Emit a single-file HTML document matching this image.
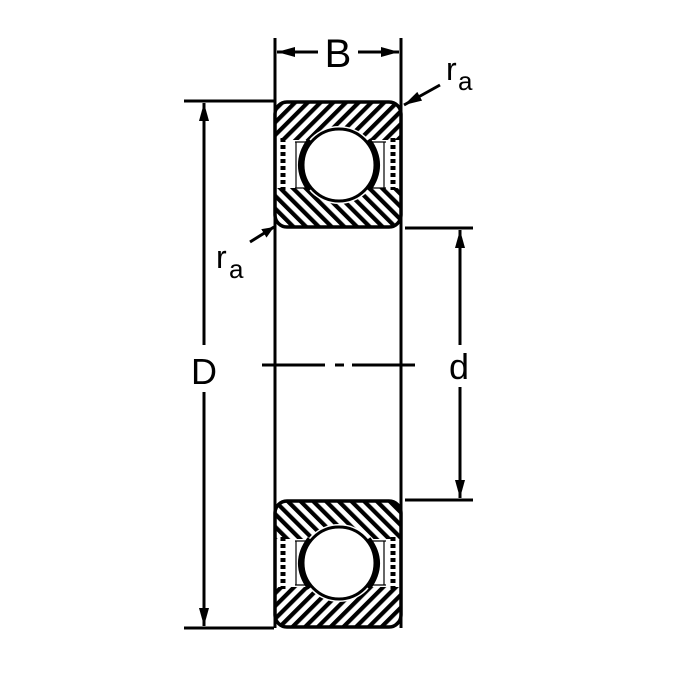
<!DOCTYPE html>
<html><head><style>body{margin:0;background:#fff}svg{display:block}</style></head><body>
<svg width="675" height="675" viewBox="0 0 675 675" xmlns="http://www.w3.org/2000/svg" font-family="Liberation Sans, sans-serif">
<defs>
<pattern id="h1" width="9" height="9" patternUnits="userSpaceOnUse" patternTransform="rotate(45)"><rect width="9" height="9" fill="#fff"/><rect width="4.2" height="9" fill="#000"/></pattern>
<pattern id="h2" width="9" height="9" patternUnits="userSpaceOnUse" patternTransform="rotate(-45)"><rect width="9" height="9" fill="#fff"/><rect width="4.2" height="9" fill="#000"/></pattern>
<marker id="ar" markerWidth="12" markerHeight="10" refX="12" refY="5" orient="auto" markerUnits="userSpaceOnUse"><path d="M0,0 L12,5 L0,10z" fill="#000"/></marker>
<marker id="arl" markerWidth="18" markerHeight="10" refX="18" refY="5" orient="auto" markerUnits="userSpaceOnUse"><path d="M0,0 L18,5 L0,10z" fill="#000"/></marker>
<clipPath id="c1"><rect x="275" y="102" width="126" height="125" rx="12"/></clipPath>
<clipPath id="c2"><rect x="275" y="501" width="126" height="126" rx="12"/></clipPath>
</defs>
<g stroke="#000" stroke-width="3" fill="none">
<line x1="275" y1="38" x2="275" y2="628"/><line x1="401" y1="38" x2="401" y2="628"/>
<line x1="184" y1="101" x2="274" y2="101"/><line x1="184" y1="628" x2="274" y2="628"/>
<line x1="405" y1="228" x2="473" y2="228"/><line x1="405" y1="500" x2="473" y2="500"/>
</g>
<g stroke="#000" stroke-width="3">
<line x1="204" y1="345" x2="204" y2="103" marker-end="url(#arl)"/>
<line x1="204" y1="392" x2="204" y2="626" marker-end="url(#arl)"/>
<line x1="460" y1="345" x2="460" y2="230" marker-end="url(#arl)"/>
<line x1="460" y1="387" x2="460" y2="498" marker-end="url(#arl)"/>
<line x1="318" y1="52" x2="277" y2="52" marker-end="url(#arl)"/>
<line x1="358" y1="52" x2="399" y2="52" marker-end="url(#arl)"/>
<line x1="440" y1="85" x2="404" y2="105" marker-end="url(#arl)"/>
<line x1="250" y1="242" x2="274" y2="227" marker-end="url(#ar)"/>
<line x1="262" y1="365" x2="325" y2="365"/><line x1="335" y1="365" x2="344" y2="365"/><line x1="352" y1="365" x2="415" y2="365"/>
</g>
<!-- top bearing -->
<g clip-path="url(#c1)">
<rect x="274" y="101" width="128" height="128" fill="#fff"/>
<rect x="274" y="101" width="128" height="39" fill="url(#h1)"/>
<rect x="274" y="188" width="128" height="41" fill="url(#h2)"/>
</g>
<rect x="290" y="140" width="96" height="48" fill="#fff"/>
<circle cx="339" cy="165" r="39" fill="#fff"/>
<path d="M295,142 L312,142 M295,188 L312,188 M366,142 L386,142 M366,188 L386,188 M296,142 L296,188 M384,142 L384,188" stroke="#000" stroke-width="1.2"/>
<path d="M310,140 Q292,165 310,190" stroke="#000" stroke-width="6" fill="none"/>
<path d="M368,140 Q386,165 368,190" stroke="#000" stroke-width="6" fill="none"/>
<circle cx="339" cy="165" r="36" fill="#fff" stroke="#000" stroke-width="3"/>
<g stroke="#000" stroke-width="5" stroke-dasharray="4,3"><line x1="283" y1="138" x2="283" y2="190"/><line x1="393" y1="138" x2="393" y2="190"/></g>
<rect x="275" y="102" width="126" height="125" rx="12" fill="none" stroke="#000" stroke-width="3.5"/>
<!-- bottom bearing -->
<g clip-path="url(#c2)">
<rect x="274" y="500" width="128" height="128" fill="#fff"/>
<rect x="274" y="500" width="128" height="39" fill="url(#h2)"/>
<rect x="274" y="587" width="128" height="41" fill="url(#h1)"/>
</g>
<rect x="290" y="539" width="96" height="48" fill="#fff"/>
<circle cx="339" cy="563" r="39" fill="#fff"/>
<path d="M295,541 L312,541 M295,585 L312,585 M366,541 L386,541 M366,585 L386,585 M296,541 L296,585 M384,541 L384,585" stroke="#000" stroke-width="1.2"/>
<path d="M310,539 Q292,563 310,588" stroke="#000" stroke-width="6" fill="none"/>
<path d="M368,539 Q386,563 368,588" stroke="#000" stroke-width="6" fill="none"/>
<circle cx="339" cy="563" r="36" fill="#fff" stroke="#000" stroke-width="3"/>
<g stroke="#000" stroke-width="5" stroke-dasharray="4,3"><line x1="283" y1="537" x2="283" y2="589"/><line x1="393" y1="537" x2="393" y2="589"/></g>
<rect x="275" y="501" width="126" height="126" rx="12" fill="none" stroke="#000" stroke-width="3.5"/>
<g fill="#000">
<text x="338" y="67" font-size="40" text-anchor="middle">B</text>
<text x="204" y="384" font-size="36" text-anchor="middle">D</text>
<text x="459" y="379" font-size="36" text-anchor="middle">d</text>
<text x="446" y="80" font-size="32">r</text><text x="458" y="90" font-size="26">a</text>
<text x="216" y="268" font-size="32">r</text><text x="229" y="278" font-size="26">a</text>
</g>
</svg>
</body></html>
